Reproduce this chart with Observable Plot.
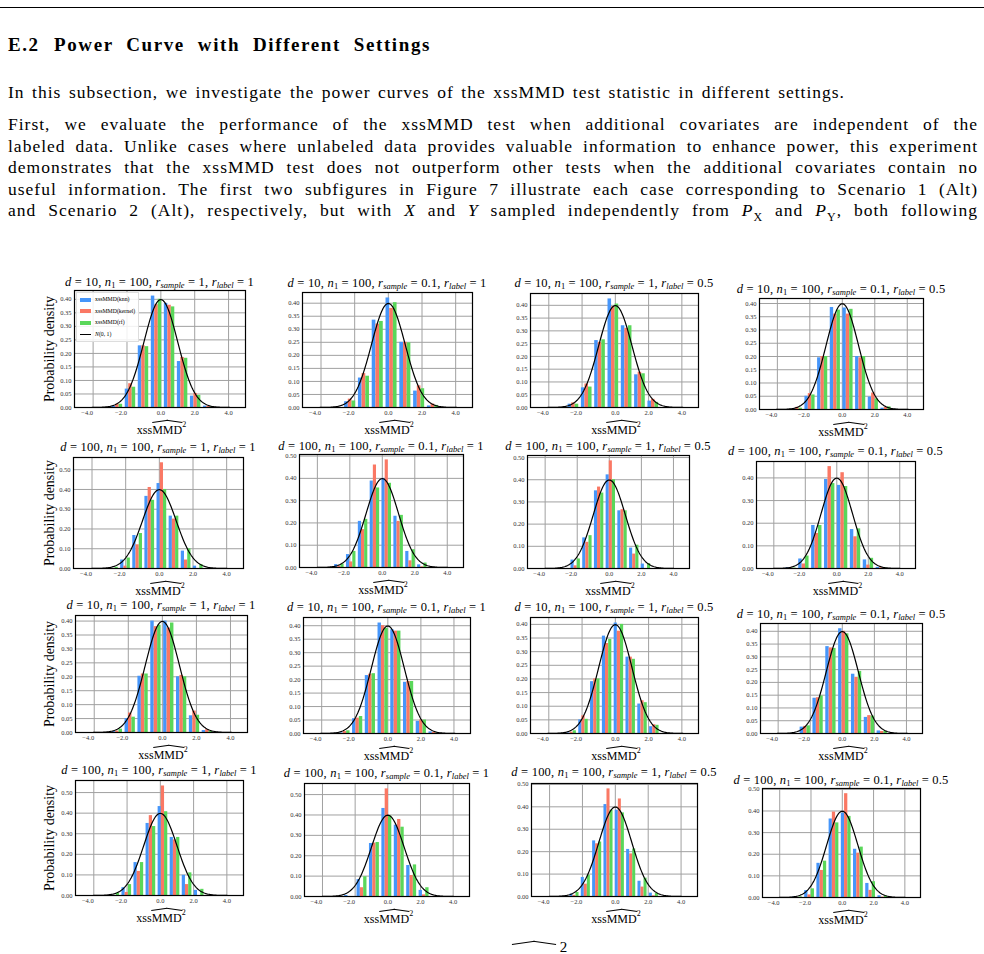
<!DOCTYPE html>
<html><head><meta charset="utf-8">
<script src="https://cdn.jsdelivr.net/npm/d3@7"></script>
<script src="https://cdn.jsdelivr.net/npm/@observablehq/plot@0.6"></script>
<style>
body{margin:0;background:#fff;}
#page{position:relative;width:984px;height:954px;overflow:hidden;font-family:"Liberation Serif",serif;color:#000;}
.rule{position:absolute;left:0;top:7px;width:984px;height:1px;background:#000;}
.txt{position:absolute;left:8px;font-size:17.5px;line-height:20px;letter-spacing:1px;text-align:justify;text-align-last:justify;}
.head{position:absolute;top:34px;font-size:19px;font-weight:bold;line-height:22px;letter-spacing:1.6px;text-align:justify;text-align-last:justify;}
.ptitle{position:absolute;font-size:12.5px;line-height:14px;letter-spacing:0.2px;white-space:nowrap;transform:translate(-50%,-50%);}
.ptitle sub{font-size:8.5px;vertical-align:-2px;line-height:0;letter-spacing:0;}
.ylab{position:absolute;font-size:14px;white-space:nowrap;transform:translate(-50%,-50%) rotate(-90deg);}
.xlab{position:absolute;font-size:12px;line-height:14px;white-space:nowrap;transform:translate(-50%,-50%);}
.hat{position:relative;display:inline-block;}
.hat::before,.hat::after{content:"";position:absolute;top:-1px;width:52%;border-top:0.8px solid #000;}
.hat::before{left:0;transform:rotate(-8deg);transform-origin:left bottom;}
.hat::after{right:0;transform:rotate(8deg);transform-origin:right bottom;}
.xlab sup{font-size:8px;vertical-align:7px;line-height:0;}
.legend{position:absolute;font-size:5.8px;line-height:11.5px;background:rgba(255,255,255,0.85);border:0.5px solid #ddd;padding:1px 3px 1px 3px;}
.legend .sw{display:inline-block;width:11px;height:4px;margin-right:4px;vertical-align:middle;}
.legend .ln{display:inline-block;width:11px;height:0;border-top:0.9px solid #000;margin-right:4px;vertical-align:middle;}
.plot{position:absolute;}
.bottomfrag{position:absolute;left:512px;top:938px;font-size:15px;line-height:18px;}
</style>
</head>
<body>
<div id="page">
<div class="rule"></div>
<div class="head" style="left:8px">E.2</div>
<div class="head" style="left:54px;width:377px">Power Curve with Different Settings</div>
<div class="txt" style="top:82px;width:837px">In this subsection, we investigate the power curves of the xssMMD test statistic in different settings.</div>
<div class="txt" style="top:114px;width:970px">First, we evaluate the performance of the xssMMD test when additional covariates are independent of the</div>
<div class="txt" style="top:136px;width:970px">labeled data. Unlike cases where unlabeled data provides valuable information to enhance power, this experiment</div>
<div class="txt" style="top:157px;width:970px">demonstrates that the xssMMD test does not outperform other tests when the additional covariates contain no</div>
<div class="txt" style="top:179px;width:970px">useful information. The first two subfigures in Figure 7 illustrate each case corresponding to Scenario 1 (Alt)</div>
<div class="txt" style="top:200px;width:970px">and Scenario 2 (Alt), respectively, but with <i>X</i> and <i>Y</i> sampled independently from <i>P</i><sub style="font-size:12px">X</sub> and <i>P</i><sub style="font-size:12px">Y</sub>, both following</div>
<div class="bottomfrag"><span class="hat" style="width:44px;height:10px;top:3px"></span>&nbsp;2</div>
</div>
<script>
// ---------- data ----------
const panelD = [10, 10, 10, 10, 100, 100, 100, 100, 10, 10, 10, 10, 100, 100, 100, 100];
const panelN1 = [100, 100, 100, 100, 100, 100, 100, 100, 100, 100, 100, 100, 100, 100, 100, 100];
const panelRSample = [1, 0.1, 1, 0.1, 1, 0.1, 1, 0.1, 1, 0.1, 1, 0.1, 1, 0.1, 1, 0.1];
const panelRLabel = [1, 1, 0.5, 0.5, 1, 1, 0.5, 0.5, 1, 1, 0.5, 0.5, 1, 1, 0.5, 0.5];

const seriesNames = ["xssMMD(knn)", "xssMMD(kernel)", "xssMMD(rf)"];
const xTicks = [-4, -2, 0, 2, 4];
const yTicksFine = [0, 0.05, 0.10, 0.15, 0.20, 0.25, 0.30, 0.35, 0.40];
const yTicksCoarse = [0, 0.10, 0.20, 0.30, 0.40, 0.50];

const binEdges = [
  [-2.95, -2.18, -1.41, -0.64, 0.13, 0.90, 1.67, 2.44, 3.21],
  [-2.68, -1.86, -1.04, -0.22, 0.60, 1.42, 2.24, 3.06],
  [-2.92, -2.12, -1.32, -0.52, 0.28, 1.08, 1.88, 2.68],
  [-3.16, -2.38, -1.60, -0.82, -0.04, 0.74, 1.52, 2.30, 3.08],
  [-3.09, -2.37, -1.65, -0.93, -0.21, 0.51, 1.23, 1.95, 2.67],
  [-3.01, -2.28, -1.55, -0.82, -0.09, 0.64, 1.37, 2.10, 2.83],
  [-2.46, -1.73, -1.00, -0.27, 0.46, 1.19, 1.92, 2.65],
  [-3.32, -2.50, -1.68, -0.86, -0.04, 0.78, 1.60, 2.42, 3.24],
  [-3.02, -2.265, -1.51, -0.755, 0, 0.755, 1.51, 2.265, 3.02],
  [-2.98, -2.21, -1.44, -0.67, 0.10, 0.87, 1.64, 2.41, 3.18],
  [-2.98, -2.27, -1.56, -0.85, -0.14, 0.57, 1.28, 1.99, 2.70],
  [-2.71, -1.91, -1.11, -0.31, 0.49, 1.29, 2.09, 2.89],
  [-3.105, -2.38, -1.655, -0.93, -0.205, 0.52, 1.245, 1.97, 2.695],
  [-2.72, -1.96, -1.20, -0.44, 0.32, 1.08, 1.84, 2.60],
  [-2.83, -2.14, -1.45, -0.76, -0.07, 0.62, 1.31, 2.00, 2.69],
  [-3.26, -2.48, -1.70, -0.92, -0.14, 0.64, 1.42, 2.20, 2.98]
];

const knnDensity = [
  [0.005, 0.068, 0.228, 0.412, 0.385, 0.170, 0.042, 0.005],
  [0.022, 0.113, 0.335, 0.420, 0.250, 0.063, 0.006],
  [0.013, 0.077, 0.262, 0.425, 0.320, 0.128, 0.025],
  [0.003, 0.050, 0.195, 0.385, 0.383, 0.200, 0.047, 0.005],
  [0.000, 0.043, 0.167, 0.365, 0.430, 0.265, 0.088, 0.012],
  [0.013, 0.058, 0.207, 0.388, 0.400, 0.230, 0.072, 0.012],
  [0.038, 0.138, 0.350, 0.422, 0.260, 0.092, 0.020],
  [0.003, 0.042, 0.190, 0.393, 0.367, 0.172, 0.038, 0.005],
  [0.003, 0.050, 0.202, 0.400, 0.400, 0.200, 0.060, 0.007],
  [0.002, 0.055, 0.215, 0.410, 0.385, 0.190, 0.045, 0.006],
  [0.002, 0.050, 0.190, 0.357, 0.405, 0.280, 0.108, 0.025],
  [0.025, 0.138, 0.340, 0.410, 0.232, 0.063, 0.010],
  [0.000, 0.038, 0.160, 0.350, 0.432, 0.282, 0.098, 0.025],
  [0.005, 0.083, 0.260, 0.432, 0.350, 0.152, 0.030],
  [0.010, 0.085, 0.248, 0.410, 0.385, 0.210, 0.068, 0.015],
  [0.002, 0.032, 0.158, 0.363, 0.390, 0.223, 0.065, 0.008]
];
const kernelDensity = [
  [0.012, 0.088, 0.228, 0.380, 0.378, 0.185, 0.052, 0.004],
  [0.032, 0.130, 0.320, 0.380, 0.250, 0.083, 0.013],
  [0.018, 0.092, 0.255, 0.395, 0.310, 0.138, 0.032],
  [0.008, 0.060, 0.200, 0.360, 0.360, 0.195, 0.062, 0.008],
  [0.000, 0.012, 0.120, 0.410, 0.535, 0.250, 0.043, 0.000],
  [0.005, 0.025, 0.170, 0.460, 0.483, 0.207, 0.030, 0.003],
  [0.012, 0.118, 0.367, 0.485, 0.265, 0.065, 0.000],
  [0.002, 0.020, 0.155, 0.450, 0.423, 0.140, 0.015, 0.003],
  [0.005, 0.070, 0.210, 0.380, 0.375, 0.205, 0.077, 0.010],
  [0.007, 0.057, 0.220, 0.400, 0.380, 0.193, 0.050, 0.004],
  [0.005, 0.065, 0.200, 0.330, 0.375, 0.280, 0.120, 0.032],
  [0.028, 0.140, 0.335, 0.400, 0.220, 0.070, 0.008],
  [0.000, 0.015, 0.117, 0.388, 0.532, 0.270, 0.053, 0.000],
  [0.000, 0.043, 0.262, 0.528, 0.378, 0.103, 0.008],
  [0.005, 0.055, 0.235, 0.480, 0.435, 0.190, 0.042, 0.003],
  [0.000, 0.012, 0.125, 0.395, 0.480, 0.205, 0.033, 0.002]
];
const rfDensity = [
  [0.012, 0.075, 0.225, 0.400, 0.372, 0.182, 0.045, 0.002],
  [0.025, 0.120, 0.330, 0.402, 0.248, 0.072, 0.008],
  [0.013, 0.080, 0.265, 0.405, 0.320, 0.132, 0.020],
  [0.005, 0.055, 0.200, 0.375, 0.378, 0.200, 0.040, 0.010],
  [0.006, 0.053, 0.177, 0.345, 0.400, 0.265, 0.100, 0.020],
  [0.015, 0.072, 0.216, 0.357, 0.378, 0.234, 0.080, 0.020],
  [0.043, 0.148, 0.340, 0.400, 0.260, 0.105, 0.022],
  [0.002, 0.055, 0.190, 0.375, 0.362, 0.175, 0.045, 0.003],
  [0.012, 0.055, 0.210, 0.385, 0.393, 0.200, 0.062, 0.004],
  [0.010, 0.063, 0.222, 0.390, 0.380, 0.193, 0.050, 0.002],
  [0.010, 0.052, 0.200, 0.345, 0.400, 0.272, 0.113, 0.030],
  [0.030, 0.147, 0.333, 0.390, 0.243, 0.068, 0.008],
  [0.012, 0.053, 0.160, 0.335, 0.407, 0.282, 0.110, 0.030],
  [0.000, 0.097, 0.265, 0.395, 0.340, 0.155, 0.043],
  [0.018, 0.095, 0.243, 0.385, 0.373, 0.212, 0.082, 0.013],
  [0.003, 0.040, 0.168, 0.345, 0.375, 0.233, 0.073, 0.007]
];

// ---------- layout (axes boxes in page pixels: left, right, top, bottom) ----------
const panelBoxes = [
  [74, 245, 290, 407], [302, 472, 292, 407], [530, 698, 293, 407], [759, 923, 298, 409],
  [73, 243, 457, 568], [299, 463, 454, 567], [527, 689, 455, 568], [756, 915, 461, 568],
  [75, 247, 615, 732], [303, 470, 617, 733], [530, 698, 617, 733], [760, 922, 623, 733],
  [75, 243, 780, 895], [304, 469, 783, 896], [531, 697, 783, 896], [762, 920, 788, 897]
];
const titleY = [282, 283, 283, 289, 447, 446, 446, 451, 605, 607, 607, 614, 770, 773, 772, 780];
const seriesColors = ["#4696fa", "#fa7864", "#5ad75a"];

const page = document.getElementById("page");
const normalCurve = d3.range(-5.1, 5.0001, 0.05).map(x => ({x, y: Math.exp(-x * x / 2) / Math.sqrt(2 * Math.PI)}));
const fmtX = d => (d < 0 ? "\u2212" : "") + Math.abs(d).toFixed(1);

panelBoxes.forEach(([L, R, T, B], i) => {
  const edges = binEdges[i];
  const series = [knnDensity[i], kernelDensity[i], rfDensity[i]];
  const rows = [];
  for (let j = 0; j < edges.length - 1; j++) {
    const w = edges[j + 1] - edges[j];
    series.forEach((vals, k) => {
      rows.push({x1: edges[j] + w * (0.1 + 0.8 * k / 3), x2: edges[j] + w * (0.1 + 0.8 * (k + 1) / 3), y: vals[j], s: seriesNames[k]});
    });
  }
  const ymax = 1.05 * Math.max(d3.max(rows, r => r.y), 0.3989);
  const row = Math.floor(i / 4);
  const yt = (row % 2 === 1 ? yTicksCoarse : yTicksFine).filter(v => v <= ymax + 1e-9);
  const mL = 24, mR = 3, mT = 3, mB = 16;
  const W = R - L, H = B - T;
  const axisStyle = {tickSize: 0, fontSize: 6.5, label: null};
  const chart = Plot.plot({
    width: W + mL + mR, height: H + mT + mB,
    marginLeft: mL, marginRight: mR, marginTop: mT, marginBottom: mB,
    style: {fontFamily: "Liberation Serif", background: "transparent", color: "#333", overflow: "visible"},
    x: {domain: [-5.1, 5.0]},
    y: {domain: [0, ymax]},
    color: {domain: seriesNames, range: seriesColors},
    marks: [
      Plot.gridX(xTicks, {stroke: "#a0a0a0", strokeOpacity: 1, strokeWidth: 1}),
      Plot.gridY(yt, {stroke: "#a0a0a0", strokeOpacity: 1, strokeWidth: 1}),
      Plot.rect(rows, {x1: "x1", x2: "x2", y1: 0, y2: "y", fill: "s"}),
      Plot.line(normalCurve, {x: "x", y: "y", stroke: "black", strokeWidth: 1.2}),
      Plot.frame({stroke: "black", strokeWidth: 1.2}),
      Plot.axisY(yt, {...axisStyle, tickPadding: 3, tickFormat: d3.format(".2f")}),
      Plot.axisX(xTicks.filter(v => v < 0), {...axisStyle, tickPadding: 3, dx: -6, tickFormat: fmtX}),
      Plot.axisX(xTicks.filter(v => v >= 0), {...axisStyle, tickPadding: 3, tickFormat: fmtX})
    ]
  });
  const holder = document.createElement("div");
  holder.className = "plot";
  holder.style.left = (L - mL) + "px";
  holder.style.top = (T - mT) + "px";
  holder.appendChild(chart);
  page.appendChild(holder);

  const cx = (L + R) / 2;
  const t = document.createElement("div");
  t.className = "ptitle";
  t.style.left = cx + "px";
  t.style.top = titleY[i] + "px";
  t.innerHTML = `<i>d</i> = ${panelD[i]}, <i>n</i><sub>1</sub> = ${panelN1[i]}, <i>r</i><sub><i>sample</i></sub> = ${panelRSample[i]}, <i>r</i><sub><i>label</i></sub> = ${panelRLabel[i]}`;
  page.appendChild(t);

  const xl = document.createElement("div");
  xl.className = "xlab";
  xl.style.left = (cx + 2) + "px";
  xl.style.top = (B + 23) + "px";
  xl.innerHTML = `xss<span class="hat">MMD</span><sup>2</sup>`;
  page.appendChild(xl);

  if (i % 4 === 0) {
    const yl = document.createElement("div");
    yl.className = "ylab";
    yl.style.left = "50px";
    yl.style.top = ((T + B) / 2) + "px";
    yl.textContent = "Probability density";
    page.appendChild(yl);
  }
  if (i === 0) {
    const lg = document.createElement("div");
    lg.className = "legend";
    lg.style.left = (L + 2) + "px";
    lg.style.top = (T + 2) + "px";
    lg.innerHTML = seriesNames.map((n, k) => `<div><span class="sw" style="background:${seriesColors[k]}"></span>${n}</div>`).join("")
      + `<div><span class="ln"></span><i>N</i>(0, 1)</div>`;
    page.appendChild(lg);
  }
});
</script>
</body></html>
